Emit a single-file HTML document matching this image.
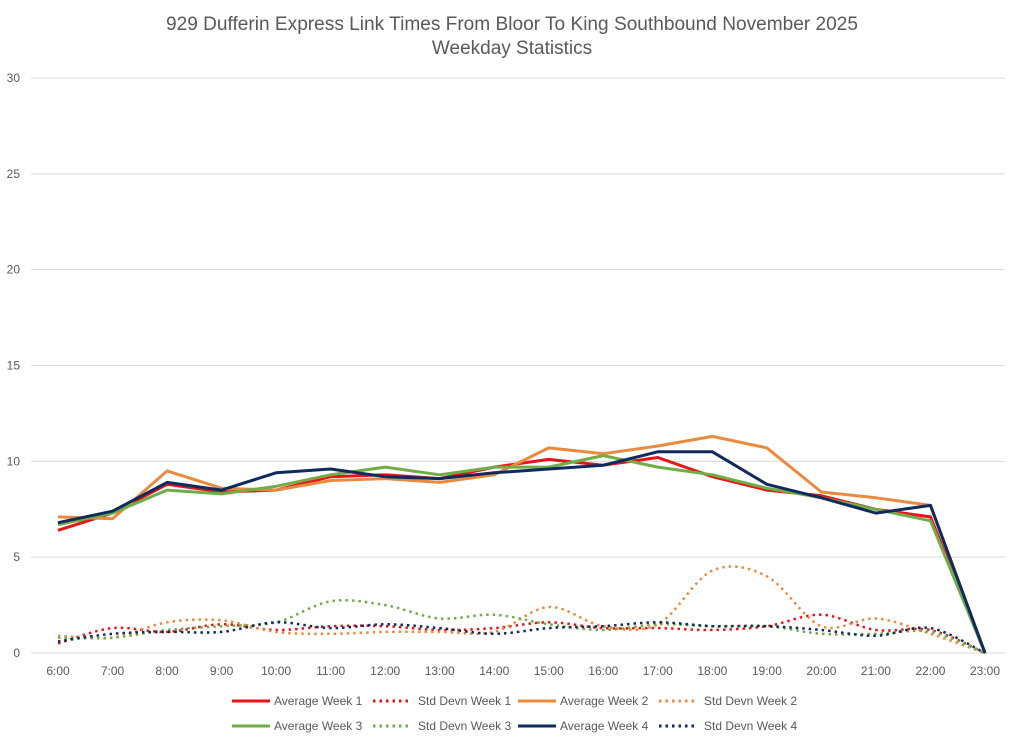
<!DOCTYPE html>
<html><head><meta charset="utf-8"><style>
body{margin:0;background:#fff;}
svg{display:block;font-family:"Liberation Sans",sans-serif;}
</style></head><body>
<svg id="chart" width="1024" height="740" viewBox="0 0 1024 740">
<text x="512" y="30" text-anchor="middle" font-size="19" fill="#595959" textLength="692" lengthAdjust="spacingAndGlyphs">929 Dufferin Express Link Times From Bloor To King Southbound November 2025</text>
<text x="512" y="54" text-anchor="middle" font-size="19" fill="#595959">Weekday Statistics</text>
<g id="grid"></g><g id="axes"></g><g id="series"></g><g id="legend"></g>
</svg>
<script>
const categories=["6:00","7:00","8:00","9:00","10:00","11:00","12:00","13:00","14:00","15:00","16:00","17:00","18:00","19:00","20:00","21:00","22:00","23:00"];
const yTicks=[0,5,10,15,20,25,30];
const avgWeek1=[6.4,7.3,8.8,8.4,8.5,9.2,9.3,9.1,9.7,10.1,9.8,10.2,9.2,8.5,8.2,7.5,7.1,0];
const avgWeek2=[7.1,7.0,9.5,8.6,8.5,9.0,9.1,8.9,9.3,10.7,10.4,10.8,11.3,10.7,8.4,8.1,7.7,0];
const avgWeek3=[6.7,7.3,8.5,8.3,8.7,9.3,9.7,9.3,9.7,9.7,10.3,9.7,9.3,8.6,8.1,7.5,6.9,0];
const avgWeek4=[6.8,7.4,8.9,8.5,9.4,9.6,9.2,9.1,9.4,9.6,9.8,10.5,10.5,8.8,8.1,7.3,7.7,0];
const sdWeek1=[0.5,1.3,1.1,1.5,1.2,1.4,1.4,1.2,1.3,1.6,1.3,1.3,1.2,1.4,2.0,1.2,1.2,0];
const sdWeek2=[0.9,0.8,1.6,1.7,1.1,1.0,1.1,1.1,1.1,2.4,1.4,1.5,4.3,4.0,1.4,1.8,1.0,0];
const sdWeek3=[0.8,0.8,1.2,1.4,1.6,2.7,2.5,1.8,2.0,1.5,1.2,1.5,1.4,1.4,1.0,1.0,1.1,0];
const sdWeek4=[0.6,1.0,1.1,1.1,1.6,1.3,1.5,1.3,1.0,1.3,1.4,1.6,1.4,1.4,1.2,0.9,1.3,0];
const NS="http://www.w3.org/2000/svg";
const x0=58,x1=985,yTop=78,yBot=653,yMax=30;
const xs=i=>x0+(x1-x0)*i/(categories.length-1);
const ys=v=>yBot-(yBot-yTop)*v/yMax;
function mk(tag,attrs,parent){const e=document.createElementNS(NS,tag);for(const k in attrs)e.setAttribute(k,attrs[k]);parent.appendChild(e);return e;}
const grid=document.getElementById('grid'),axes=document.getElementById('axes'),ser=document.getElementById('series'),leg=document.getElementById('legend');
yTicks.forEach(t=>{
 const l=mk('line',{x1:31,x2:1005,y1:ys(t),y2:ys(t),stroke:'#d9d9d9','stroke-width':1},grid);
 
 
 const tx=mk('text',{x:20,y:ys(t)+4,'text-anchor':'end','font-size':12,fill:'#595959'},axes);
 tx.textContent=t;
 
 
});
categories.forEach((c,i)=>{
 const tx=mk('text',{x:xs(i),y:675,'text-anchor':'middle','font-size':12,fill:'#595959'},axes);
 tx.textContent=c;
 
 
});
function straight(d){return d.map((v,i)=>(i?'L':'M')+xs(i).toFixed(1)+','+ys(v).toFixed(1)).join(' ');}
function smooth(d){const p=d.map((v,i)=>[xs(i),ys(v)]);let s='M'+p[0][0]+','+p[0][1];
 for(let i=0;i<p.length-1;i++){const a=p[i-1]||p[i],b=p[i],c=p[i+1],e=p[i+2]||c;
  const c1=[b[0]+(c[0]-a[0])/6,b[1]+(c[1]-a[1])/6],c2=[c[0]-(e[0]-b[0])/6,c[1]-(e[1]-b[1])/6];
  s+=' C'+c1[0].toFixed(1)+','+c1[1].toFixed(1)+' '+c2[0].toFixed(1)+','+c2[1].toFixed(1)+' '+c[0].toFixed(1)+','+c[1].toFixed(1);}
 return s;}
const series=[
 {n:'Average Week 1',d:avgWeek1,c:'#e8141a',dot:false,k:'avg-week-1'},
 {n:'Std Devn Week 1',d:sdWeek1,c:'#e8141a',dot:true,k:'sd-week-1'},
 {n:'Average Week 2',d:avgWeek2,c:'#ea8a3f',dot:false,k:'avg-week-2'},
 {n:'Std Devn Week 2',d:sdWeek2,c:'#ea8a3f',dot:true,k:'sd-week-2'},
 {n:'Average Week 3',d:avgWeek3,c:'#70ad47',dot:false,k:'avg-week-3'},
 {n:'Std Devn Week 3',d:sdWeek3,c:'#70ad47',dot:true,k:'sd-week-3'},
 {n:'Average Week 4',d:avgWeek4,c:'#0e2a5e',dot:false,k:'avg-week-4'},
 {n:'Std Devn Week 4',d:sdWeek4,c:'#0e2a5e',dot:true,k:'sd-week-4'}];
const order=[1,3,5,7,0,2,4,6];
order.forEach(j=>{const s=series[j];
 const p=mk('path',{d:s.dot?smooth(s.d):straight(s.d),fill:'none',stroke:s.c,'stroke-width':s.dot?2.5:3,'stroke-linejoin':'round','stroke-dasharray':s.dot?'2.5 4':'none'},ser);
 
 
});
const lx=[232,373,518,659],ly=[701,726];
series.forEach((s,j)=>{const r=Math.floor(j/4),c=j%4,x=lx[c],y=ly[r];
 const g=mk('g',{},leg);
 
 
 mk('line',{x1:x,x2:x+38,y1:y,y2:y,stroke:s.c,'stroke-width':3,'stroke-dasharray':s.dot?'2.5 4':'none'},g);
 const t=mk('text',{x:x+(s.dot?45:42),y:y+4,'font-size':12,fill:'#595959'},g);t.textContent=s.n;
});
</script>
</body></html>
